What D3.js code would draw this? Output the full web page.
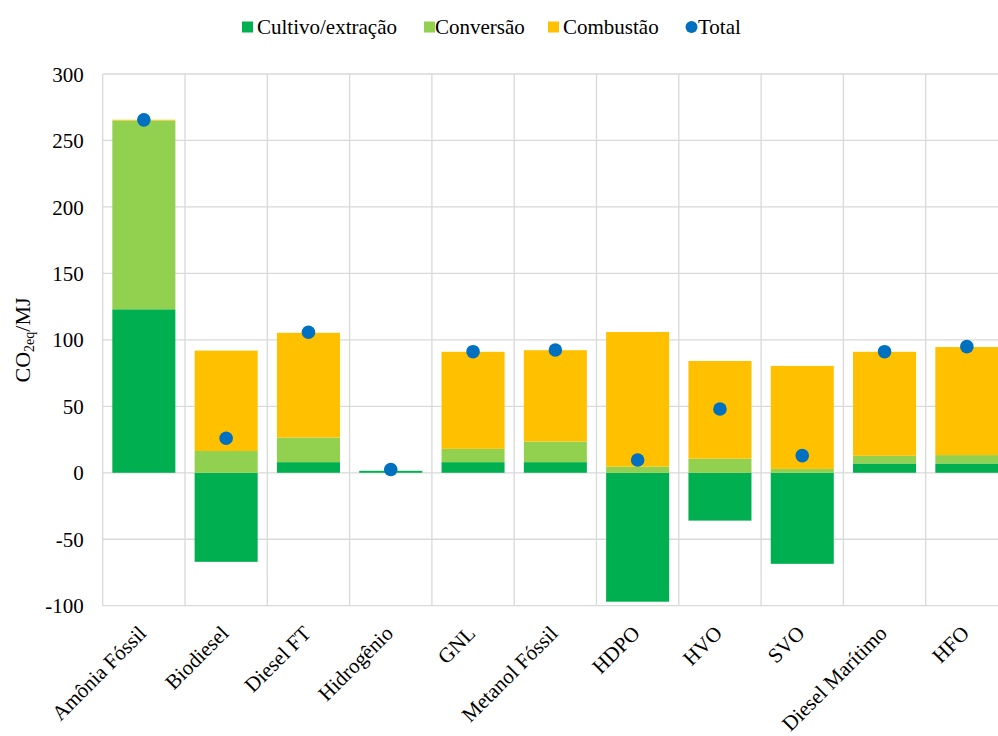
<!DOCTYPE html>
<html><head><meta charset="utf-8">
<script src="https://cdn.jsdelivr.net/npm/d3@7"></script>
<style>
body{margin:0;background:#fff;}
svg text{font-family:"Liberation Serif","Times New Roman",serif !important;fill:#000;}
</style></head>
<body><svg id="c" width="998" height="736" font-family="Liberation Serif"></svg>
<script>
const categories = ["Amônia Fóssil","Biodiesel","Diesel FT","Hidrogênio","GNL","Metanol Fóssil","HDPO","HVO","SVO","Diesel Marítimo","HFO"];
const cultivo   = [123, -67, 8, 1.5, 8, 8, -97, -36, -68.5, 7, 7];
const conversao = [142, 16.4, 18.5, 0, 10, 15.5, 4.6, 10.6, 2.9, 5.8, 6.3];
const combustao = [0.6, 75.5, 78.8, 0, 73, 68.7, 101.3, 73.5, 77.5, 78.2, 81.3];
const total     = [265.5, 26, 105.7, 2.5, 91.1, 92.4, 9.6, 48, 12.9, 91.1, 94.9];
const yTicks = [-100, -50, 0, 50, 100, 150, 200, 250, 300];
const seriesNames = ["Cultivo/extração","Conversão","Combustão","Total"];
const colors = ["#00B050","#92D050","#FFC000","#0070C0"];

const FONT = '"Liberation Serif","Times New Roman",serif';
const svg = d3.select("#c");
const L = 102.7, R = 1008, T = 74, B = 605.7, VIEW_R = 998;
const y = d3.scaleLinear().domain([-100, 300]).range([B, T]);
const xCell = d3.scaleBand().domain(categories).range([L, R]).padding(0);
const barFrac = 0.766;

// gridlines
const grid = svg.append("g");
grid.selectAll("line.h").data(yTicks).join("line")
  .attr("x1", L).attr("x2", VIEW_R).attr("y1", d => y(d)).attr("y2", d => y(d))
  .attr("stroke", "#d9d9d9").attr("stroke-width", 1.3);
const vlines = categories.map(c => xCell(c));
grid.selectAll("line.v").data(vlines).join("line")
  .attr("x1", d => d).attr("x2", d => d).attr("y1", T).attr("y2", B)
  .attr("stroke", "#d9d9d9").attr("stroke-width", 1.3);

// stacked bars
const table = categories.map((c, i) => ({cat: c, c0: cultivo[i], c1: conversao[i], c2: combustao[i]}));
const stack = d3.stack().keys(["c0","c1","c2"]).offset(d3.stackOffsetDiverging);
const layers = stack(table);
const bw = xCell.bandwidth() * barFrac;
svg.append("g").selectAll("g").data(layers).join("g")
  .attr("fill", (d, i) => colors[i])
  .selectAll("rect").data(d => d).join("rect")
  .attr("x", d => xCell(d.data.cat) + (xCell.bandwidth() - bw) / 2)
  .attr("width", bw)
  .attr("y", d => y(Math.max(d[0], d[1])))
  .attr("height", d => Math.abs(y(d[0]) - y(d[1])));

// total dots
svg.append("g").selectAll("circle").data(total).join("circle")
  .attr("cx", (d, i) => xCell(categories[i]) + xCell.bandwidth() / 2)
  .attr("cy", d => y(d))
  .attr("r", 6.8)
  .attr("fill", colors[3]);

// y axis labels
const yAxis = d3.axisLeft(y).tickValues(yTicks).tickSize(0).tickPadding(19).tickFormat(d => String(d));
const ya = svg.append("g").attr("transform", `translate(${L},0)`).call(yAxis);
ya.attr("font-family", FONT).attr("font-size", 21);
ya.select(".domain").remove();
ya.selectAll("text").attr("font-family", FONT)
  .attr("font-size", 21).attr("fill", "#000").attr("dy", "0.34em");

// x axis labels
svg.append("g").selectAll("text").data(categories).join("text")
  .attr("transform", d => `translate(${xCell(d) + xCell.bandwidth() / 2 - 9},622) rotate(-45)`)
  .attr("text-anchor", "end").attr("dy", "0.85em")
  .attr("font-family", FONT).attr("font-size", 21).text(d => d);

// y title
const yt = svg.append("text").attr("transform", "translate(30,340) rotate(-90)")
  .attr("text-anchor", "middle").attr("font-family", FONT).attr("font-size", 22);
yt.append("tspan").text("CO");
yt.append("tspan").text("2eq").attr("font-size", 14).attr("dy", "4");
yt.append("tspan").text("/MJ").attr("dy", "-4");

// legend
const legend = [
  {name: seriesNames[0], col: colors[0], sx: 242, tx: 257, shape: "rect"},
  {name: seriesNames[1], col: colors[1], sx: 424, tx: 435, shape: "rect"},
  {name: seriesNames[2], col: colors[2], sx: 548, tx: 563, shape: "rect"},
  {name: seriesNames[3], col: colors[3], sx: 686, tx: 698, shape: "circle"}
];
const lg = svg.append("g");
legend.forEach(d => {
  if (d.shape === "rect") {
    lg.append("rect").attr("x", d.sx).attr("y", 21.5).attr("width", 11).attr("height", 11).attr("fill", d.col);
  } else {
    lg.append("circle").attr("cx", d.sx + 5.5).attr("cy", 27).attr("r", 6).attr("fill", d.col);
  }
  lg.append("text").attr("x", d.tx).attr("y", 27).attr("dy", "0.35em")
    .attr("font-family", FONT).attr("font-size", 21).text(d.name);
});
</script></body></html>
